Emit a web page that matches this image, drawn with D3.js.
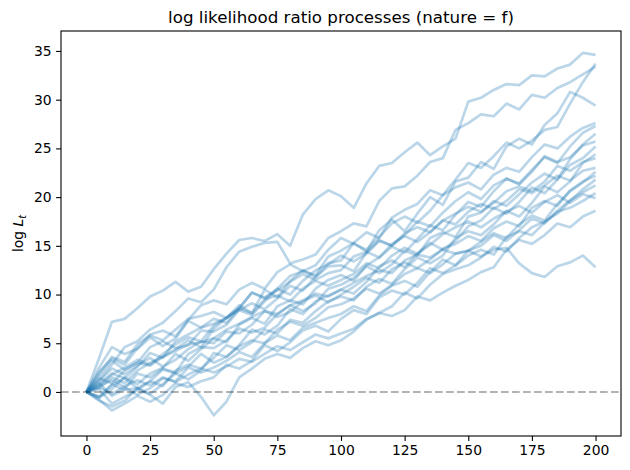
<!DOCTYPE html>
<html>
<head>
<meta charset="utf-8">
<script src="https://cdn.jsdelivr.net/npm/d3@7"></script>
<style>
  html, body { margin: 0; padding: 0; background: #fff; }
  svg { display: block; font-family: "DejaVu Sans", sans-serif; }
</style>
</head>
<body>
<svg id="chart" width="630" height="470"></svg>
<script>
// ---- data (values read every 5 steps, t = 0..200) ----
const stepT = [0,5,10,15,20,25,30,35,40,45,50,55,60,65,70,75,80,85,90,95,100,105,110,115,120,125,130,135,140,145,150,155,160,165,170,175,180,185,190,195,200];

const path01 = [0,3.5,7.2,7.5,8.6,9.8,10.4,11.3,10.3,10.8,12.6,14.2,15.6,15.8,15.5,16.2,15.0,18.2,19.8,20.7,20.1,18.9,21.4,23.2,23.5,24.6,25.6,24.3,25.2,26.0,29.8,30.2,31.0,31.6,31.5,32.5,32.4,33.2,33.6,34.8,34.6];
const path02 = [0,1.2,2.8,4.6,5.2,6.4,7.1,8.3,9.6,9.2,10.5,12.8,14.4,14.9,15.3,15.4,13.2,13.6,14.1,15.8,16.5,17.3,17.0,19.6,20.9,21.1,22.2,23.6,24.0,26.9,27.6,28.5,28.3,29.6,29.0,30.5,30.2,31.2,31.8,32.6,33.4];
const path03 = [0,0.8,1.9,1.4,2.6,4.0,3.5,5.2,5.9,6.6,7.5,7.1,8.6,10.2,9.6,10.6,11.9,12.4,12.0,13.9,14.5,15.3,16.4,15.8,17.9,18.7,19.3,20.7,20.2,21.8,23.5,23.0,24.2,25.6,25.0,25.8,26.9,27.2,29.6,31.8,33.7];
const path04 = [0,0.4,1.5,0.9,2.2,3.0,3.6,4.4,5.3,4.6,6.5,7.6,8.9,8.1,10.5,9.7,11.4,12.5,11.8,13.2,13.5,15.3,14.4,16.6,17.7,16.5,18.3,20.0,19.2,21.6,22.0,23.6,22.9,25.2,26.0,25.4,27.4,28.6,30.8,30.2,29.4];
const path05 = [0,2.1,3.4,2.8,4.5,5.9,6.3,5.7,7.4,8.9,9.4,9.0,10.5,11.2,10.6,12.3,13.1,12.4,13.0,14.6,15.8,15.2,14.6,15.9,17.3,18.0,17.4,18.6,20.2,21.0,21.5,20.8,22.3,23.0,22.6,24.1,25.4,25.0,26.2,27.1,27.6];
const path06 = [0,-0.6,0.3,1.5,0.8,1.9,2.5,3.9,3.2,4.4,5.5,5.1,6.9,7.6,7.0,8.8,9.4,9.0,10.6,11.5,12.0,11.4,13.0,13.8,14.9,14.3,15.7,17.1,16.6,18.2,19.5,19.0,20.6,21.9,21.4,22.8,24.1,23.5,25.2,26.6,27.3];
const path07 = [0,0.9,-0.4,0.3,1.9,1.5,2.4,2.0,3.9,4.6,4.5,5.3,6.5,6.1,6.6,8.0,8.9,8.3,9.1,10.6,11.0,11.7,12.9,12.2,13.1,14.5,14.0,15.8,16.4,15.9,18.0,18.4,19.6,19.1,20.3,21.5,22.4,21.8,23.9,25.4,26.5];
const path08 = [0,1.6,3.2,2.3,3.0,4.6,5.2,4.5,4.8,6.3,6.2,6.9,8.4,9.1,8.5,9.6,10.9,10.4,11.8,12.9,13.0,12.4,14.3,15.6,15.0,16.1,17.5,17.0,18.4,19.6,20.5,19.8,21.2,21.9,21.3,22.6,24.2,23.6,24.1,25.3,25.7];
const path09 = [0,-0.9,-1.5,-0.9,0.4,-0.2,0.8,1.9,1.3,2.2,4.0,3.6,4.8,6.4,5.9,6.8,8.5,8.0,9.3,9.9,10.5,10.1,11.3,12.9,13.5,12.8,14.2,15.3,14.6,15.5,17.0,17.6,18.9,18.3,19.5,21.0,20.4,21.8,23.3,24.0,25.2];
const path10 = [0,0.3,-1.2,-0.5,0.2,1.1,0.6,2.2,2.8,2.4,3.5,4.8,4.3,5.1,6.4,6.0,7.4,7.1,8.3,9.3,9.8,9.4,10.8,11.6,11.1,12.6,13.8,13.2,14.0,15.8,16.5,16.1,17.2,18.6,18.0,19.4,21.1,20.5,21.6,23.5,24.4];
const path11 = [0,1.9,3.6,3.1,4.9,5.8,5.3,6.4,7.5,7.8,8.2,7.6,8.6,10.2,9.7,10.4,11.3,12.1,11.5,12.2,12.5,13.9,14.4,13.8,15.2,16.0,15.4,16.4,17.6,17.2,18.5,19.3,18.8,19.6,20.8,20.4,21.2,22.2,21.7,22.7,23.0];
const path12 = [0,0.6,1.2,0.5,-0.3,0.4,1.4,1.1,2.5,2.0,2.5,3.2,4.1,3.6,5.0,5.8,5.3,6.6,7.1,7.6,8.0,8.8,8.3,9.9,10.9,11.4,10.8,12.3,13.6,13.0,14.5,15.4,16.3,15.8,17.2,18.1,17.6,19.3,20.6,21.5,22.6];
const path13 = [0,1.1,2.4,1.8,2.7,3.5,2.6,3.3,4.4,5.2,5.0,6.2,6.0,6.9,8.3,7.7,8.2,9.3,9.9,9.2,10.0,10.8,11.7,11.2,12.6,13.3,12.7,13.6,14.7,15.2,16.0,15.5,16.8,17.5,17.0,18.9,19.6,19.1,20.7,21.6,22.2];
const path14 = [0,-0.5,0.7,1.4,0.4,1.1,2.3,1.9,2.6,3.9,3.0,3.6,4.7,5.3,5.0,6.4,7.2,6.8,7.6,8.7,9.0,9.6,10.6,10.1,11.0,12.1,12.7,12.2,13.1,14.2,14.5,15.0,16.1,15.5,16.6,17.8,17.3,18.6,19.7,20.5,21.2];
const path15 = [0,-0.8,-1.9,-1.2,-0.4,-1.0,-0.3,0.9,0.5,1.1,1.5,2.8,2.4,3.2,4.8,4.2,5.1,6.3,6.8,6.2,7.5,8.4,8.0,9.7,10.4,10.0,11.2,12.7,12.2,13.0,14.0,14.6,14.1,15.9,16.5,16.1,17.4,18.5,18.9,19.6,20.4];
const path16 = [0,2.5,4.6,3.9,4.4,5.6,4.7,5.5,7.3,6.6,7.0,7.6,8.6,8.1,9.5,9.9,9.3,10.6,11.4,10.9,11.5,12.1,13.2,12.7,14.0,14.8,14.2,15.1,16.2,16.9,17.5,16.9,17.8,18.5,19.1,18.4,19.5,20.2,19.4,20.3,19.9];
const path17 = [0,0.5,-0.2,0.6,1.2,0.7,1.5,1.0,1.8,2.4,2.0,2.6,3.4,3.1,3.9,4.7,4.3,5.1,5.9,5.5,6.0,6.5,7.5,8.1,7.8,8.4,9.8,9.4,10.2,10.9,11.5,12.3,12.8,14.6,15.6,15.2,16.1,17.3,16.9,18.0,18.6];
const path18 = [0,1.4,0.9,2.2,3.0,2.7,3.6,4.2,4.9,5.1,5.5,6.4,7.0,7.7,8.3,8.0,8.9,9.4,10.1,9.8,10.5,11.2,11.9,12.5,12.2,13.5,14.1,13.8,14.6,14.2,14.5,13.9,14.6,14.8,13.2,12.2,11.8,12.9,13.3,14.0,12.8];
const path19 = [0,0.7,1.8,2.5,3.3,2.8,3.9,4.9,5.6,5.2,6.8,7.6,8.4,7.9,9.3,10.6,10.0,11.4,12.5,13.1,14.0,13.4,14.2,15.5,15.0,16.3,16.9,16.4,17.6,18.3,19.0,18.5,19.4,20.6,21.1,20.6,21.6,23.2,22.7,23.6,24.0];
const path20 = [0,-0.5,0.8,0.2,0.4,-0.3,-1.2,0.5,1.0,-0.5,-2.4,-1.0,1.5,2.4,3.4,3.9,3.5,4.5,5.2,4.8,5.3,6.2,7.4,8.1,8.8,10.2,9.6,11.0,12.1,12.6,13.0,13.8,14.9,14.4,15.8,16.9,17.5,18.3,19.6,20.8,21.8];

const allPaths = [path01,path02,path03,path04,path05,path06,path07,path08,path09,path10,
                  path11,path12,path13,path14,path15,path16,path17,path18,path19,path20];

const xTicks = [0,25,50,75,100,125,150,175,200];
const yTicks = [0,5,10,15,20,25,30,35];
const xDomain = [-10, 210];
const yDomain = [-4.52, 37.05];
const titleText = "log likelihood ratio processes (nature = f)";

// ---- layout ----
const svg = d3.select("#chart");
const L = 61, R = 621, T = 31, B = 436;

const x = d3.scaleLinear().domain(xDomain).range([L, R]);
const y = d3.scaleLinear().domain(yDomain).range([B, T]);

const clipId = "plotclip";
svg.append("defs").append("clipPath").attr("id", clipId)
  .append("rect").attr("x", L).attr("y", T).attr("width", R - L).attr("height", B - T);

const plot = svg.append("g").attr("clip-path", `url(#${clipId})`);

const line = d3.line()
  .x((d, i) => x(stepT[i]))
  .y(d => y(d));

plot.selectAll("path.proc")
  .data(allPaths)
  .join("path")
  .attr("class", "proc")
  .attr("d", d => line(d))
  .attr("fill", "none")
  .attr("stroke", "#1f77b4")
  .attr("stroke-opacity", 0.3)
  .attr("stroke-width", 2.7)
  .attr("stroke-linejoin", "round")
  .attr("stroke-linecap", "butt");

// horizontal dashed line at 0
plot.append("line")
  .attr("x1", L).attr("x2", R)
  .attr("y1", y(0)).attr("y2", y(0))
  .attr("stroke", "#000")
  .attr("stroke-opacity", 0.3)
  .attr("stroke-width", 2)
  .attr("stroke-dasharray", "7.7,3.3");

// axes
const xAxis = d3.axisBottom(x).tickValues(xTicks).tickSize(4.9).tickPadding(4.5).tickFormat(d3.format("d"));
const yAxis = d3.axisLeft(y).tickValues(yTicks).tickSize(4.9).tickPadding(4.5).tickFormat(d3.format("d"));

const gx = svg.append("g").attr("transform", `translate(0,${B})`).call(xAxis);
const gy = svg.append("g").attr("transform", `translate(${L},0)`).call(yAxis);
[gx, gy].forEach(g => {
  g.select(".domain").remove();
  g.selectAll(".tick line").attr("stroke", "#000").attr("stroke-width", 1.1);
  g.selectAll(".tick text").attr("fill", "#000").style("font-size", "13.9px")
    .style("font-family", "'DejaVu Sans', sans-serif");
});

// frame
svg.append("rect")
  .attr("x", L).attr("y", T).attr("width", R - L).attr("height", B - T)
  .attr("fill", "none").attr("stroke", "#000").attr("stroke-width", 1.1);

// title
svg.append("text")
  .attr("x", (L + R) / 2).attr("y", 23)
  .attr("text-anchor", "middle")
  .style("font-size", "16.7px")
  .attr("fill", "#000")
  .text(titleText);

// y label: log L_t
const yl = svg.append("text")
  .attr("transform", `translate(23,${(T + B) / 2}) rotate(-90)`)
  .attr("text-anchor", "middle")
  .style("font-size", "13.9px")
  .attr("fill", "#000");
yl.append("tspan").text("log ");
yl.append("tspan").style("font-style", "italic").text("L");
yl.append("tspan").style("font-style", "italic").style("font-size", "9.7px").attr("dy", 3).text("t");
</script>
</body>
</html>
